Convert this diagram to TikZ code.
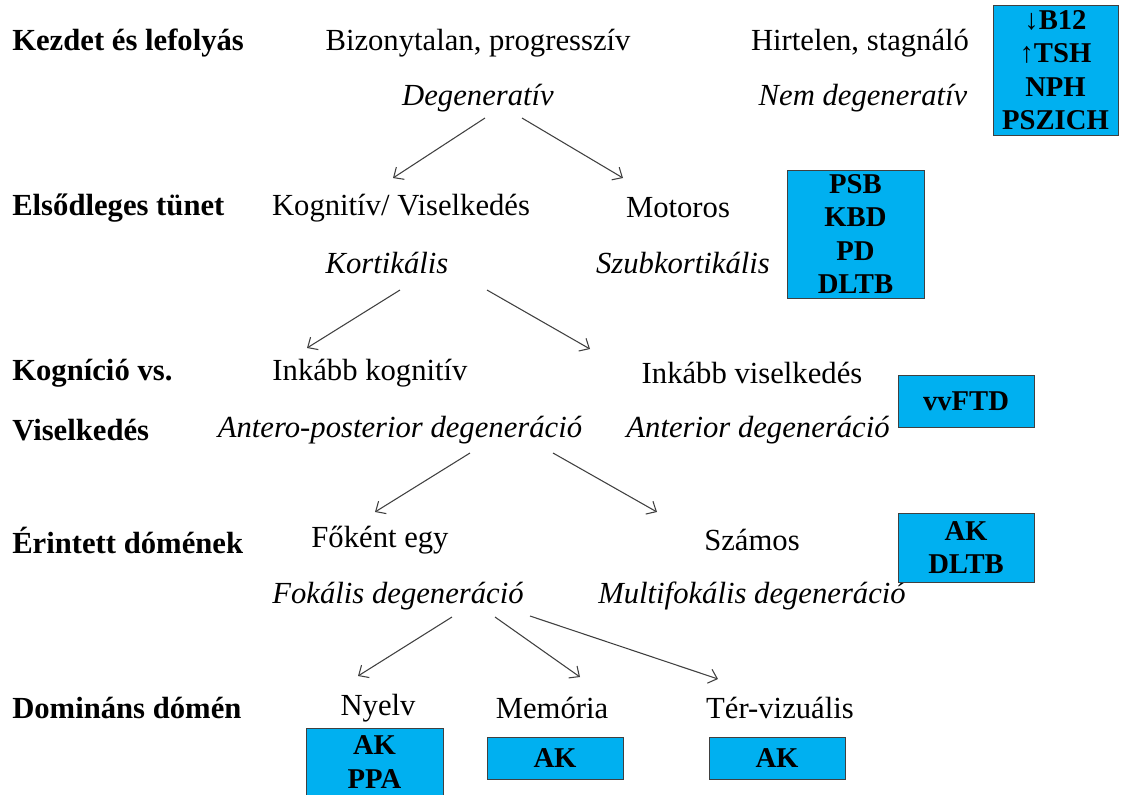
\documentclass[tikz,border=0pt]{standalone}
\usepackage{fontspec}
\setmainfont{LiberationSerif}[Extension=.ttf,UprightFont=*-Regular,BoldFont=*-Bold,ItalicFont=*-Italic,BoldItalicFont=*-BoldItalic]
\usetikzlibrary{arrows.meta,positioning}
\definecolor{boxblue}{HTML}{00B0F0}
\definecolor{edge}{HTML}{404040}
\tikzset{
  level/.style={font=\rmfamily\fontsize{23}{26}\selectfont\bfseries,anchor=west,inner sep=0pt},
  option/.style={font=\rmfamily\fontsize{23}{26}\selectfont,inner sep=0pt},
  kind/.style={font=\rmfamily\fontsize{23}{26}\selectfont\itshape,inner sep=0pt},
  dx/.style={draw=edge,fill=boxblue,font=\rmfamily\fontsize{21.5}{25}\selectfont\bfseries,align=center,inner sep=0pt,minimum width=102pt},
  arr/.style={-{Straight Barb[length=6pt,width=11pt]},draw=edge,line width=0.8pt}
}

\begin{document}
\begin{tikzpicture}[x=0.75pt,y=-0.75pt]
\useasboundingbox (0,0) rectangle (1129,794);

% row labels
\node[level] (l1) at (12,43) {Kezdet és lefolyás};
\node[level] (l2) at (12,208) {Elsődleges tünet};
\node[level] (l3) at (12,373) {Kogníció vs.};
\node[level] (l3b) at (12,430) {Viselkedés};
\node[level] (l4) at (12,540) {Érintett dómének};
\node[level] (l5) at (12,708) {Domináns dómén};

% onset
\node[option] (prog) at (478,43) {Bizonytalan, progresszív};
\node[kind] (degen) at (478,98) {Degeneratív};
\node[option] (hirt) at (860,43) {Hirtelen, stagnáló};
\node[kind] (nondeg) at (863,98) {Nem degeneratív};
\node[dx,minimum width=93.75pt,minimum height=97.5pt] (dx1) at (1055.5,70) {↓B12\\↑TSH\\NPH\\PSZICH};

% primary symptom
\node[option] (kogn) at (401,208) {Kognitív/ Viselkedés};
\node[kind] (kort) at (387,263) {Kortikális};
\node[option] (motor) at (678,208) {Motoros};
\node[kind] (szubk) at (683,263) {Szubkortikális};
\node[dx,minimum width=102.75pt,minimum height=96pt] (dx2) at (855.5,234) {PSB\\KBD\\PD\\DLTB};

% cognition vs behaviour
\node[option] (inkk) at (370,373) {Inkább kognitív};
\node[kind] (antpost) at (400,430) {Antero-posterior degeneráció};
\node[option] (inkv) at (752,373) {Inkább viselkedés};
\node[kind] (ant) at (758,430) {Anterior degeneráció};
\node[dx,minimum height=39pt] (dx3) at (966,401) {vvFTD};

% affected domains
\node[option] (fokent) at (380,540) {Főként egy};
\node[kind] (fokal) at (398,596) {Fokális degeneráció};
\node[option] (szamos) at (752,540) {Számos};
\node[kind] (multi) at (752,596) {Multifokális degeneráció};
\node[dx,minimum height=51.75pt] (dx4) at (966,547.5) {AK\\DLTB};

% dominant domain
\node[option] (nyelv) at (378,708) {Nyelv};
\node[option] (memo) at (552,708) {Memória};
\node[option] (ter) at (780,708) {Tér-vizuális};
\node[dx,minimum width=102.75pt,minimum height=51pt] (dx5) at (374.5,762) {AK\\PPA};
\node[dx,minimum height=31.5pt] (dx6) at (555,758) {AK};
\node[dx,minimum height=31.5pt] (dx7) at (777,758) {AK};

% arrows
\draw[arr] ([shift={(7,20)}]degen.center) -- ([shift={(-8,-30)}]kogn.center);
\draw[arr] ([shift={(44,20)}]degen.center) -- ([shift={(-55,-30)}]motor.center);
\draw[arr] ([shift={(13,27)}]kort.center) -- ([shift={(-63,-25)}]inkk.center);
\draw[arr] ([shift={(100,27)}]kort.center) -- ([shift={(-162,-24)}]inkv.center);
\draw[arr] ([shift={(70,23)}]antpost.center) -- ([shift={(-5,-28)}]fokent.center);
\draw[arr] ([shift={(153,23)}]antpost.center) -- ([shift={(-95,-28)}]szamos.center);
\draw[arr] ([shift={(54,21)}]fokal.center) -- ([shift={(-20,-32)}]nyelv.center);
\draw[arr] ([shift={(97,21)}]fokal.center) -- ([shift={(28,-31)}]memo.center);
\draw[arr] ([shift={(132,20)}]fokal.center) -- ([shift={(-62,-29)}]ter.center);
\end{tikzpicture}
\end{document}
